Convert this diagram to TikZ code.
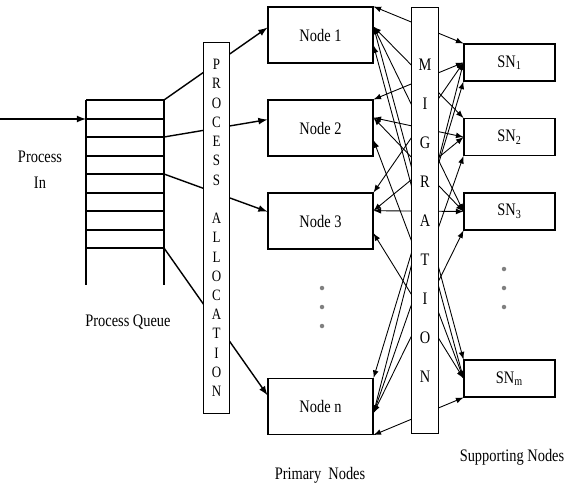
\documentclass[tikz,border=0pt]{standalone}
\usepackage{fontspec}
\setmainfont{Liberation Serif}[FakeStretch=0.82]
\usetikzlibrary{arrows}

\tikzstyle{block} = [draw, text centered, minimum height = 1.12cm, minimum width = 2.1cm, line width = 0.6pt, font = \fontsize{10}{12}\selectfont]
\tikzstyle{snblock} = [draw, text centered, minimum height = 0.74cm, minimum width = 1.82cm, line width = 0.6pt, font = \fontsize{10}{12}\selectfont]
\tikzstyle{bar} = [draw, fill = white, align = center, minimum width = 0.53cm, line width = 0.6pt, inner sep = 0pt]
\tikzstyle{dot} = [circle, fill = gray, inner sep = 0pt, minimum size = 0.09cm]
\tikzstyle{mig} = [latex-latex, line width = 0.5pt]
\tikzstyle{txt} = [align = center, font = \fontsize{10}{14.7}\selectfont]

\begin{document}
\begin{tikzpicture}[x = 0.02cm, y = -0.02cm]
		\useasboundingbox (0, 0) rectangle (568, 487);

		% process queue
		\draw [line width = 0.6pt] (86, 100) -- (86, 285);
		\draw [line width = 0.6pt] (164, 100) -- (164, 285);
		\foreach \y in {100, 119, 137, 156, 174, 193, 211, 230, 248}
			\draw [line width = 0.6pt] (86, \y) -- (164, \y);
		\coordinate (in) at (0, 119);
		\coordinate (qin) at (86, 119);
		\coordinate (q1) at (164, 100);
		\coordinate (q2) at (164, 137);
		\coordinate (q3) at (164, 174);
		\coordinate (q4) at (164, 248);

		\node [txt] at (40, 170) (pin) {Process\\In};
		\node [txt] at (128, 322) (pq) {Process Queue};
		\draw [-latex, line width = 0.8pt] (in) -- (qin);

		% primary nodes
		\node [block] at (320.5, 35) (n1) {Node 1};
		\node [block] at (320.5, 128) (n2) {Node 2};
		\node [block] at (320.5, 221) (n3) {Node 3};
		\node [block] at (320.5, 406.5) (nn) {Node n};
		\foreach \y in {288, 307, 326}
			\node [dot] at (322, \y) (pd\y) {};
		\node [txt] at (320, 475) (pn) {Primary~ Nodes};

		% supporting nodes
		\node [snblock] at (509.5, 62.5) (s1) {SN\textsubscript{1}};
		\node [snblock] at (509.5, 137) (s2) {SN\textsubscript{2}};
		\node [snblock] at (509.5, 211.5) (s3) {SN\textsubscript{3}};
		\node [snblock] at (509.5, 378.5) (sm) {SN\textsubscript{m}};
		\foreach \y in {269, 288, 307}
			\node [dot] at (504, \y) (sd\y) {};
		\node [txt] at (512, 457) (sn) {Supporting Nodes};

		% allocation
		\draw [-latex, line width = 0.8pt] (q1) -- (n1.172);
		\draw [-latex, line width = 0.8pt] (q2) -- (n2.171);
		\draw [-latex, line width = 0.8pt] (q3) -- (n3.170);
		\draw [-latex, line width = 0.8pt] (q4) -- (nn.168);
		\node [bar, minimum height = 7.44cm, font = \fontsize{9}{10.95}\selectfont] at (216.5, 228) (alloc)
			{P\\R\\O\\C\\E\\S\\S\\[10.95pt]A\\L\\L\\O\\C\\A\\T\\I\\O\\N};

		% migration
		\foreach \a/\b in {n1.north east/s1.north west, n1.9/s2.north west, n1.9/s3.west, n1.9/sm.north west,
				n1.349/sm.west, n2.north east/s1.west, n2.11/s2.west, n2.11/s3.west, n2.347/sm.west,
				n3.north east/s1.west, n3.11/s2.west, n3.11/s3.west, n3.347/sm.west,
				nn.north east/s1.south west, nn.353/s1.west, nn.353/s2.south west, nn.353/s3.south west,
				nn.south east/sm.south west}
			\draw [mig] (\a) -- (\b);
		\node [bar, minimum height = 8.54cm, font = \fontsize{10}{22.2}\selectfont] at (425, 220.5) (mig)
			{M\\I\\G\\R\\A\\T\\I\\O\\N};
	\end{tikzpicture}
\end{document}
